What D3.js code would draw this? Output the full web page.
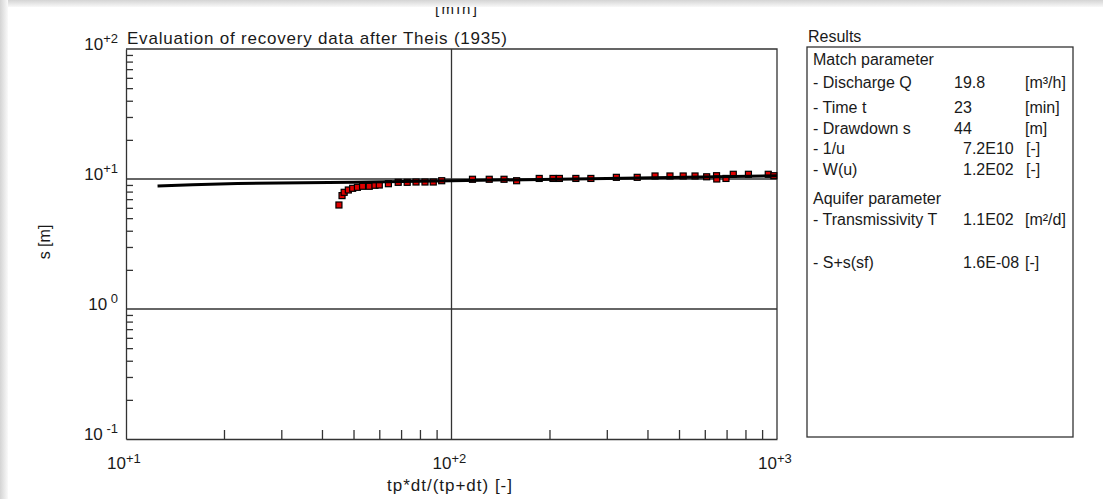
<!DOCTYPE html>
<html>
<head>
<meta charset="utf-8">
<script src="https://cdn.jsdelivr.net/npm/d3@7"></script>
<style>
  body { margin: 0; background: #fff; }
  text { font-family: "Liberation Sans", Arial, sans-serif; fill: #1a1a1a; }
</style>
</head>
<body>
<svg id="chart"></svg>
<script>
// theis type curve (fitted)
var curveX = [12.5, 16, 22, 50, 100, 300, 1000];
var curveS = [8.85, 9.05, 9.25, 9.45, 9.7, 10.1, 10.6];

// measured recovery points
var obsX = [45.1, 46.1, 46.8, 48.2, 49.7, 51.4, 53.3, 55.9, 58.2, 60, 64, 68.6, 73.1, 77.8, 82.9, 87.9,
            93.3, 116, 130.6, 145, 158.5, 186, 205, 214.5, 241, 268, 321, 372, 422, 469, 515, 560,
            608, 652, 653, 697, 734, 817, 940, 978];
var obsS = [6.31, 7.45, 7.9, 8.23, 8.48, 8.63, 8.79, 8.79, 8.95, 8.99, 9.2, 9.43, 9.43, 9.48, 9.48, 9.48,
            9.7, 9.95, 9.95, 9.95, 9.7, 10.1, 10.1, 10.1, 10.1, 10.1, 10.3, 10.3, 10.55, 10.55, 10.55, 10.55,
            10.4, 10.6, 10.0, 10.1, 10.87, 10.87, 10.87, 10.6];

var xDecades = [10, 100, 1000];
var xSup = ["+1", "+2", "+3"];
var yDecades = [100, 10, 1, 0.1];
var ySup = ["+2", "+1", " 0", " -1"];

var resLabels = ["Match parameter", "- Discharge Q", "- Time t", "- Drawdown s", "- 1/u", "- W(u)",
                 "Aquifer parameter", "- Transmissivity T", "- S+s(sf)"];
var resValues = ["", "19.8", "23", "44", "7.2E10", "1.2E02", "", "1.1E02", "1.6E-08"];
var resUnits = ["", "[m\u00b3/h]", "[min]", "[m]", "[-]", "[-]", "", "[m\u00b2/d]", "[-]"];

var width = 1103, height = 499;
var plot = {left: 126, right: 777, top: 49, bottom: 439};

var svg = d3.select("#chart")
    .attr("width", width)
    .attr("height", height);

var defs = svg.append("defs");
var gTop = defs.append("linearGradient").attr("id", "shTop").attr("x1", 0).attr("y1", 0).attr("x2", 0).attr("y2", 1);
gTop.append("stop").attr("offset", "0%").attr("stop-color", "#d4d4d4");
gTop.append("stop").attr("offset", "100%").attr("stop-color", "#f8f8f8");
var gLeft = defs.append("linearGradient").attr("id", "shLeft").attr("x1", 0).attr("y1", 0).attr("x2", 1).attr("y2", 0);
gLeft.append("stop").attr("offset", "0%").attr("stop-color", "#d4d4d4");
gLeft.append("stop").attr("offset", "100%").attr("stop-color", "#fafafa");

svg.append("rect").attr("width", width).attr("height", height).attr("fill", "#fff");

// bit of text from a window above, mostly hidden under the frame
svg.append("text")
    .attr("x", 435).attr("y", 14)
    .attr("font-size", 15)
    .attr("textLength", 42)
    .text("[min]");

var x = d3.scaleLog()
    .domain([10, 1000])
    .range([plot.left, plot.right]);

var y = d3.scaleLog()
    .domain([0.1, 100])
    .range([plot.bottom, plot.top]);

var lineCol = "#333";

// minor ticks
var xMinor = [];
var yMinor = [];
[10, 100].forEach(function(d) { for (var k = 2; k < 10; k++) xMinor.push(d * k); });
[0.1, 1, 10].forEach(function(d) { for (var k = 2; k < 10; k++) yMinor.push(d * k); });

var xAxis = svg.append("g")
    .attr("transform", "translate(0," + plot.bottom + ")")
    .call(d3.axisBottom(x).tickValues(xMinor).tickSizeInner(-9).tickSizeOuter(0).tickFormat(""));

var yAxis = svg.append("g")
    .attr("transform", "translate(" + plot.left + ",0)")
    .call(d3.axisLeft(y).tickValues(yMinor).tickSizeInner(-7).tickSizeOuter(0).tickFormat(""));

[xAxis, yAxis].forEach(function(a) {
  a.selectAll("path, line").attr("stroke", lineCol).attr("stroke-width", 1.3);
});

// top and right border
svg.append("path")
    .attr("d", "M" + plot.left + "," + plot.top + "H" + plot.right + "V" + plot.bottom)
    .attr("fill", "none")
    .attr("stroke", lineCol)
    .attr("stroke-width", 1.3);

// grid at decades
svg.selectAll(".hgrid")
    .data([10, 1])
    .enter().append("line")
    .attr("x1", plot.left).attr("x2", plot.right)
    .attr("y1", function(d) { return y(d); })
    .attr("y2", function(d) { return y(d); })
    .attr("stroke", lineCol).attr("stroke-width", 1.3);

svg.append("line")
    .attr("x1", x(100)).attr("x2", x(100))
    .attr("y1", plot.top).attr("y2", plot.bottom)
    .attr("stroke", lineCol).attr("stroke-width", 1.3);

// y tick labels
yDecades.forEach(function(d, i) {
  var t = svg.append("text")
      .attr("x", 118)
      .attr("y", y(d) + 1)
      .attr("text-anchor", "end")
      .attr("font-size", 17);
  t.append("tspan").text("10");
  t.append("tspan").attr("dy", -7).attr("font-size", 13).style("white-space", "pre").text(ySup[i]);
});

// x tick labels
xDecades.forEach(function(d, i) {
  svg.append("text")
      .attr("x", x(d))
      .attr("y", 469)
      .attr("text-anchor", "end")
      .attr("font-size", 17)
      .text("10");
  svg.append("text")
      .attr("x", x(d))
      .attr("y", 463)
      .attr("font-size", 13)
      .text(xSup[i]);
});

svg.append("text")
    .attr("x", 387)
    .attr("y", 491)
    .attr("font-size", 17)
    .attr("textLength", 125)
    .text("tp*dt/(tp+dt) [-]");

svg.append("text")
    .attr("transform", "translate(50,242) rotate(-90)")
    .attr("text-anchor", "middle")
    .attr("font-size", 16)
    .text("s [m]");

svg.append("text")
    .attr("x", 127)
    .attr("y", 44)
    .attr("font-size", 17)
    .attr("textLength", 380)
    .text("Evaluation of recovery data after Theis (1935)");

// observations
var obs = obsX.map(function(d, i) { return {x: d, s: obsS[i]}; });

svg.append("g")
    .selectAll("rect")
    .data(obs)
    .enter()
    .append("rect")
      .attr("x", function(d) { return x(d.x) - 3; })
      .attr("y", function(d) { return y(d.s) - 3; })
      .attr("width", 6)
      .attr("height", 6)
      .attr("fill", "#e00000")
      .attr("stroke", "#000")
      .attr("stroke-width", 1.2);

// type curve on top
var curve = curveX.map(function(d, i) { return {x: d, s: curveS[i]}; });

svg.append("path")
    .datum(curve)
    .attr("fill", "none")
    .attr("stroke", "#000")
    .attr("stroke-width", 3)
    .attr("d", d3.line()
        .x(function(d) { return x(d.x); })
        .y(function(d) { return y(d.s); }));

// results panel
svg.append("text")
    .attr("x", 808).attr("y", 42)
    .attr("font-size", 16)
    .text("Results");

svg.append("rect")
    .attr("x", 807).attr("y", 47)
    .attr("width", 266).attr("height", 390)
    .attr("fill", "none")
    .attr("stroke", lineCol)
    .attr("stroke-width", 1.3);

var rowY = [65, 88, 113, 134, 154, 175, 204, 225, 268];
var valX = [0, 954, 954, 954, 963, 963, 0, 963, 963];
var unitX = [0, 1025, 1025, 1025, 1026, 1026, 0, 1025, 1025];

resLabels.forEach(function(d, i) {
  svg.append("text").attr("x", 813).attr("y", rowY[i]).attr("font-size", 16).text(d);
  if (resValues[i]) {
    svg.append("text").attr("x", valX[i]).attr("y", rowY[i]).attr("font-size", 16).text(resValues[i]);
    svg.append("text").attr("x", unitX[i]).attr("y", rowY[i]).attr("font-size", 16).text(resUnits[i]);
  }
});

// window frame shadow
svg.append("rect").attr("x", 0).attr("y", 0).attr("width", width).attr("height", 7).attr("fill", "url(#shTop)");
svg.append("rect").attr("x", 0).attr("y", 0).attr("width", 8).attr("height", height).attr("fill", "url(#shLeft)");
</script>
</body>
</html>
